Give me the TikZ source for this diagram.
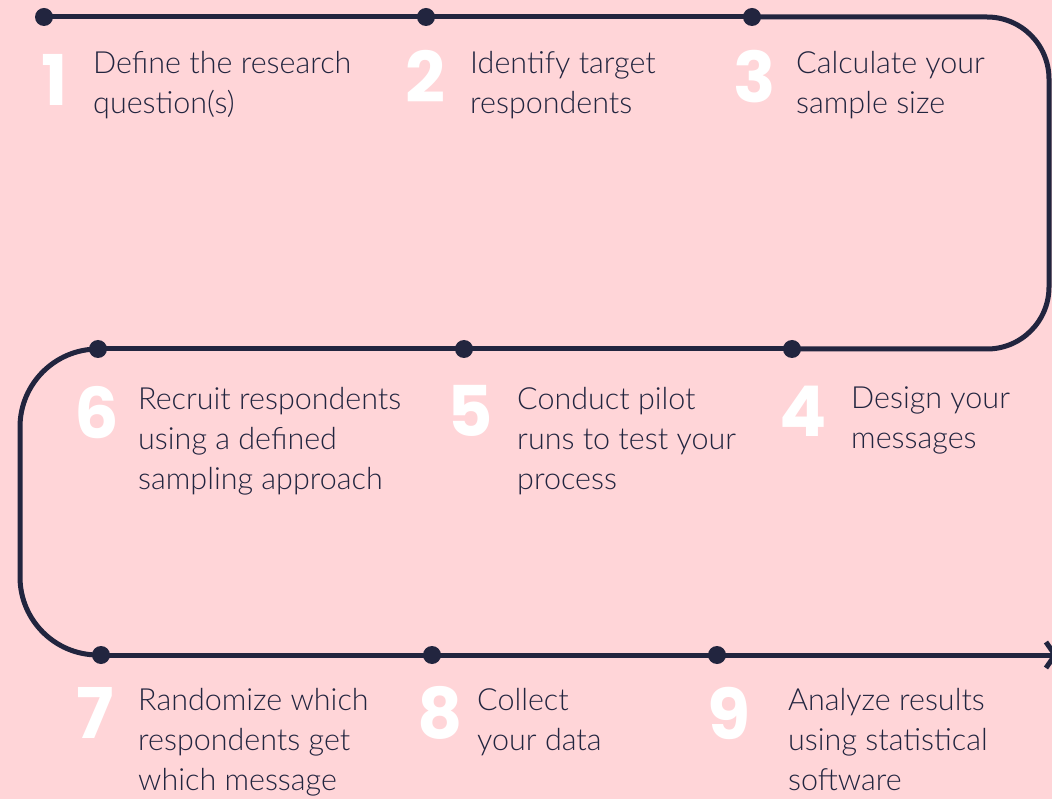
\documentclass[tikz,border=0pt]{standalone}
\usepackage{fontspec}
\setmainfont{Lato Light}
\newfontfamily\numfont{Poppins}
\usetikzlibrary{arrows.meta}
\definecolor{bgpink}{HTML}{FFD5D8}
\definecolor{navy}{HTML}{22253F}
\begin{document}
\begin{tikzpicture}[x=1pt,y=-1pt,
  track/.style={draw=navy, line width=5pt},
  dot/.style={circle, fill=navy, inner sep=0pt, minimum size=18pt},
  stepnum/.style={text=white, font=\numfont\bfseries\fontsize{70}{70}\selectfont, inner sep=0pt},
  steptext/.style={text=navy, anchor=north west, align=left, inner sep=0pt,
    font=\fontsize{30.5}{40}\selectfont}]
\fill[bgpink] (0,0) rectangle (1052,799);
\useasboundingbox (0,0) rectangle (1052,799);

% stations along the track
\node[dot] (d1) at (44,17) {};
\node[dot] (d2) at (426,17) {};
\node[dot] (d3) at (752,17) {};
\node[dot] (d4) at (792,349) {};
\node[dot] (d5) at (464,349) {};
\node[dot] (d6) at (98,349) {};
\node[dot] (d7) at (101,655) {};
\node[dot] (d8) at (432,655) {};
\node[dot] (d9) at (717,655) {};
\coordinate (tr) at (1049,17);
\coordinate (br) at (1049,349);
\coordinate (tl) at (20,349);
\coordinate (bl) at (20,655);
\coordinate (end) at (1058,655);

% the winding track
\draw[track] (d1.center) -- (d2.center) -- (d3.center);
\draw[track, rounded corners=62pt] (d3.center) -- (tr) -- (br) -- (d4.center);
\draw[track] (d4.center) -- (d5.center) -- (d6.center);
\draw[track, rounded corners=78pt] (d6.center) -- (tl) -- (bl) -- (d7.center);
\draw[track] (d7.center) -- (d8.center) -- (d9.center);
\draw[track, -{Straight Barb[length=9pt,width=26pt,line width=5pt]}] (d9.center) -- (end);

% step numbers
\node[stepnum] (n1) at (55,80) {1};
\node[stepnum] (n2) at (425,76) {2};
\node[stepnum] (n3) at (755,77) {3};
\node[stepnum] (n4) at (803,411) {4};
\node[stepnum] (n5) at (470,411) {5};
\node[stepnum] (n6) at (97,413) {6};
\node[stepnum] (n7) at (95,713) {7};
\node[stepnum] (n8) at (440,713) {8};
\node[stepnum] (n9) at (729,713) {9};

% step descriptions
\node[steptext] (t1) at (93,51) {Define the research\\question(s)};
\node[steptext] (t2) at (470,51) {Identify target\\respondents};
\node[steptext] (t3) at (796,51) {Calculate your\\sample size};
\node[steptext] (t4) at (851,387) {Design your\\messages};
\node[steptext] (t5) at (517,387) {Conduct pilot\\runs to test your\\process};
\node[steptext] (t6) at (138,387) {Recruit respondents\\using a defined\\sampling approach};
\node[steptext] (t7) at (138,688) {Randomize which\\respondents get\\which message};
\node[steptext] (t8) at (477,688) {Collect\\your data};
\node[steptext] (t9) at (788,688) {Analyze results\\using statistical\\software};
\end{tikzpicture}
\end{document}
